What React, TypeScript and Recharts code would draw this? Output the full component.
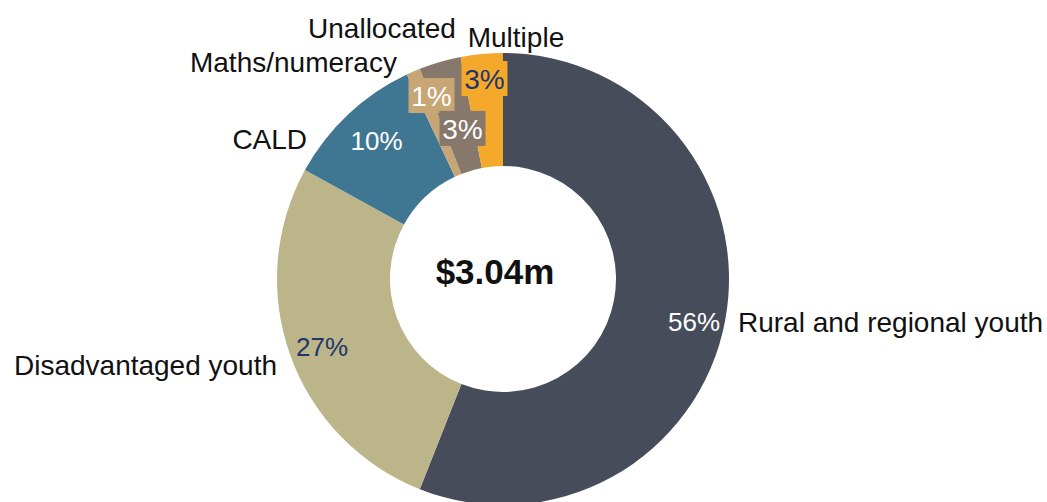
import React from "react";
import { PieChart, Pie, Cell } from "recharts";

const categories = [
  "Rural and regional youth",
  "Disadvantaged youth",
  "CALD",
  "Maths/numeracy",
  "Unallocated",
  "Multiple",
];
const shares = [56, 27, 10, 1, 3, 3];
const totalLabel = "$3.04m";

const colors = ["#464C5A", "#BDB58A", "#3F7793", "#C7A575", "#86796B", "#F4A92B"];
const pctColors = ["#FFFFFF", "#22356A", "#FFFFFF", "#FFFFFF", "#FFFFFF", "#22356A"];

// label layout tweaks (offsets from the library-computed anchor points)
const layout = [
  { pdx: 24.5, pdy: 11.2, box: false, ndx: 13, ndy: 0.7, anchor: "start" },
  { pdx: -21.5, pdy: 10.5, box: false, ndx: -13.3, ndy: 9.4, anchor: "end" },
  { pdx: -10.4, pdy: -14.4, box: false, ndx: -41.2, ndy: 24.8, anchor: "end" },
  { pdx: -4.2, pdy: -27.4, box: true, ndx: -16.3, ndy: -9.5, anchor: "end" },
  { pdx: 6.8, pdy: 12.7, box: true, ndx: 16, ndy: -34.5, anchor: "end" },
  { pdx: -2.6, pdy: -31.2, box: true, ndx: -14, ndy: -17.5, anchor: "start" },
];

const data = categories.map((name, i) => ({ name, value: shares[i] }));

const RADIAN = Math.PI / 180;
const FONT = "'Liberation Sans', Arial, sans-serif";
const PFS = 26;
const BFS = 28;
const NFS = 28;

const renderLabel = (props: any) => {
  const { cx, cy, midAngle, innerRadius, outerRadius, index, value, name } = props;
  const L = layout[index];
  const cos = Math.cos(-midAngle * RADIAN);
  const sin = Math.sin(-midAngle * RADIAN);
  const rm = (innerRadius + outerRadius) / 2;
  const px = cx + rm * cos + L.pdx;
  const py = cy + rm * sin + L.pdy;
  const nx = cx + outerRadius * cos + L.ndx;
  const ny = cy + outerRadius * sin + L.ndy;
  const text = `${value}%`;
  const fs = L.box ? BFS : PFS;
  return (
    <g>
      {L.box && (
        <rect x={px - 23} y={py - 18} width={46} height={35} fill={colors[index]} />
      )}
      <text
        x={px}
        y={py + 0.36 * fs}
        textAnchor="middle"
        fill={pctColors[index]}
        fontFamily={FONT}
        fontSize={fs}
      >
        {text}
      </text>
      <text
        x={nx}
        y={ny + 0.36 * NFS}
        textAnchor={L.anchor}
        fill="#111111"
        fontFamily={FONT}
        fontSize={NFS}
      >
        {name}
      </text>
    </g>
  );
};

export default function App() {
  return (
    <div style={{ position: "absolute", left: 0, top: 0, background: "#fff" }}>
      <PieChart width={1047} height={502}>
        <Pie
          data={data}
          dataKey="value"
          nameKey="name"
          cx={498}
          cy={274}
          innerRadius={113}
          outerRadius={226}
          startAngle={90}
          endAngle={-270}
          stroke="none"
          labelLine={false}
          label={renderLabel}
          isAnimationActive={false}
        >
          {data.map((d, i) => (
            <Cell key={d.name} fill={colors[i]} />
          ))}
        </Pie>
        <text
          x={495}
          y={284}
          textAnchor="middle"
          fontFamily={FONT}
          fontWeight="bold"
          fontSize={35}
          fill="#111111"
        >
          {totalLabel}
        </text>
      </PieChart>
    </div>
  );
}
